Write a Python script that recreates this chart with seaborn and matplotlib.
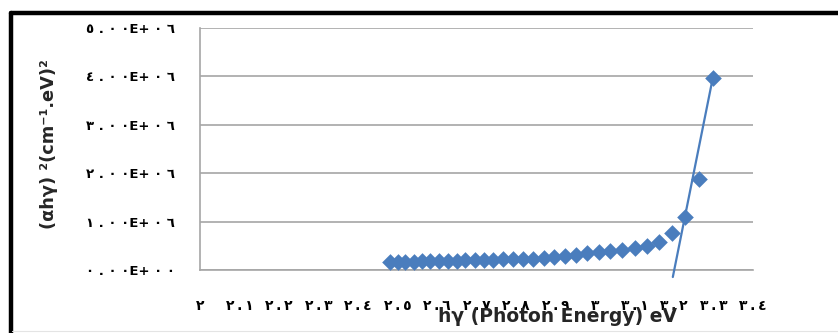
import matplotlib
matplotlib.use("Agg")
import matplotlib.pyplot as plt
from matplotlib.lines import Line2D
import seaborn as sns
import pandas as pd

# Photon energy (eV) and (alpha h nu)^2 values of the absorption edge
photon_energy = [2.480, 2.500, 2.520, 2.541, 2.562, 2.583, 2.605, 2.627,
                 2.650, 2.672, 2.696, 2.719, 2.743, 2.768, 2.793, 2.818,
                 2.844, 2.870, 2.897, 2.925, 2.952, 2.981, 3.010, 3.039,
                 3.069, 3.100, 3.131, 3.163, 3.196, 3.229, 3.263, 3.298]
alpha_hv_sq = [0.160e6, 0.165e6, 0.170e6, 0.175e6, 0.180e6, 0.185e6, 0.190e6, 0.190e6,
               0.195e6, 0.200e6, 0.205e6, 0.210e6, 0.215e6, 0.220e6, 0.225e6, 0.230e6,
               0.235e6, 0.245e6, 0.265e6, 0.290e6, 0.320e6, 0.345e6, 0.370e6, 0.395e6,
               0.420e6, 0.450e6, 0.500e6, 0.570e6, 0.760e6, 1.100e6, 1.870e6, 3.960e6]

# Linear extrapolation of the steep edge (band gap ~3.2 eV)
fit_energy = [3.197, 3.298]
fit_value = [-0.145e6, 3.96e6]

# Arabic-Indic tick labels (thin spaces around the decimal point on x)
x_ticks = [2.0, 2.1, 2.2, 2.3, 2.4, 2.5, 2.6, 2.7, 2.8, 2.9, 3.0, 3.1, 3.2, 3.3, 3.4]
x_tick_labels = ["٢", "٢\u2009.\u2009١", "٢\u2009.\u2009٢", "٢\u2009.\u2009٣",
                 "٢\u2009.\u2009٤", "٢\u2009.\u2009٥", "٢\u2009.\u2009٦", "٢\u2009.\u2009٧",
                 "٢\u2009.\u2009٨", "٢\u2009.\u2009٩", "٣", "٣\u2009.\u2009١",
                 "٣\u2009.\u2009٢", "٣\u2009.\u2009٣", "٣\u2009.\u2009٤"]
y_ticks = [0, 1e6, 2e6, 3e6, 4e6, 5e6]
y_tick_labels = ["٠ . ٠ ٠E+ ٠ ٠", "١ . ٠ ٠E+ ٠ ٦", "٢ . ٠ ٠E+ ٠ ٦",
                 "٣ . ٠ ٠E+ ٠ ٦", "٤ . ٠ ٠E+ ٠ ٦", "٥ . ٠ ٠E+ ٠ ٦"]

sns.set_style("white")
plt.rcParams["font.family"] = ["DejaVu Sans"]

W, H = 838, 333
fig = plt.figure(figsize=(W / 100, H / 100), dpi=100)
fig.patch.set_facecolor("white")
ax = fig.add_axes([200 / W, 1 - 270 / H, 553 / W, 242 / H])

blue = "#4a7dbd"
grid_gray = "#a6a6a6"

data = pd.DataFrame({"energy": photon_energy, "value": alpha_hv_sq})
fit = pd.DataFrame({"energy": fit_energy, "value": fit_value})

sns.scatterplot(data=data, x="energy", y="value", marker="D", s=72,
                color=blue, linewidth=0, ax=ax, zorder=3)
sns.lineplot(data=fit, x="energy", y="value", color=blue, linewidth=1.6,
             ax=ax, zorder=4, clip_on=False)

ax.set_xlim(2.0, 3.4)
ax.set_ylim(0, 5e6)
ax.set_xticks(x_ticks)
ax.set_xticklabels(x_tick_labels, fontweight="bold")
ax.set_yticks(y_ticks)
ax.set_yticklabels(y_tick_labels, fontweight="bold")
ax.set_xlabel("")
ax.set_ylabel("")

ax.yaxis.grid(True, color=grid_gray, linewidth=1.2)
ax.xaxis.grid(False)
ax.set_axisbelow(True)
for side in ("top", "right"):
    ax.spines[side].set_visible(False)
for side in ("left", "bottom"):
    ax.spines[side].set_color(grid_gray)
    ax.spines[side].set_linewidth(1.2)

ax.tick_params(axis="both", direction="out", length=5.8, width=1.2,
               color=grid_gray, labelcolor="black")
ax.tick_params(axis="y", pad=12, labelsize=9.5)
ax.tick_params(axis="x", pad=15, labelsize=10)

fig.text(558 / W, 1 - 322 / H, "hγ (Photon Energy) eV", ha="center",
         va="baseline", fontsize=13.5, fontweight="bold")
fig.text(49 / W, 1 - 144 / H, "(αhγ) ²(cm⁻¹.eV)²", ha="center", va="center",
         rotation=90, fontsize=12.8, fontweight="bold")

# Black frame around the chart
fig.add_artist(Line2D([10.5 / W, 1.0], [1 - 12.5 / H, 1 - 12.5 / H],
                      color="black", linewidth=3.2, transform=fig.transFigure))
fig.add_artist(Line2D([10.5 / W, 10.5 / W], [0.0, 1 - 12.5 / H],
                      color="black", linewidth=3.2, transform=fig.transFigure))
fig.add_artist(Line2D([12 / W, 1.0], [1 - 331 / H, 1 - 331 / H],
                      color="#e4e4e4", linewidth=0.8, transform=fig.transFigure))

fig.savefig("out.png", dpi=100)
